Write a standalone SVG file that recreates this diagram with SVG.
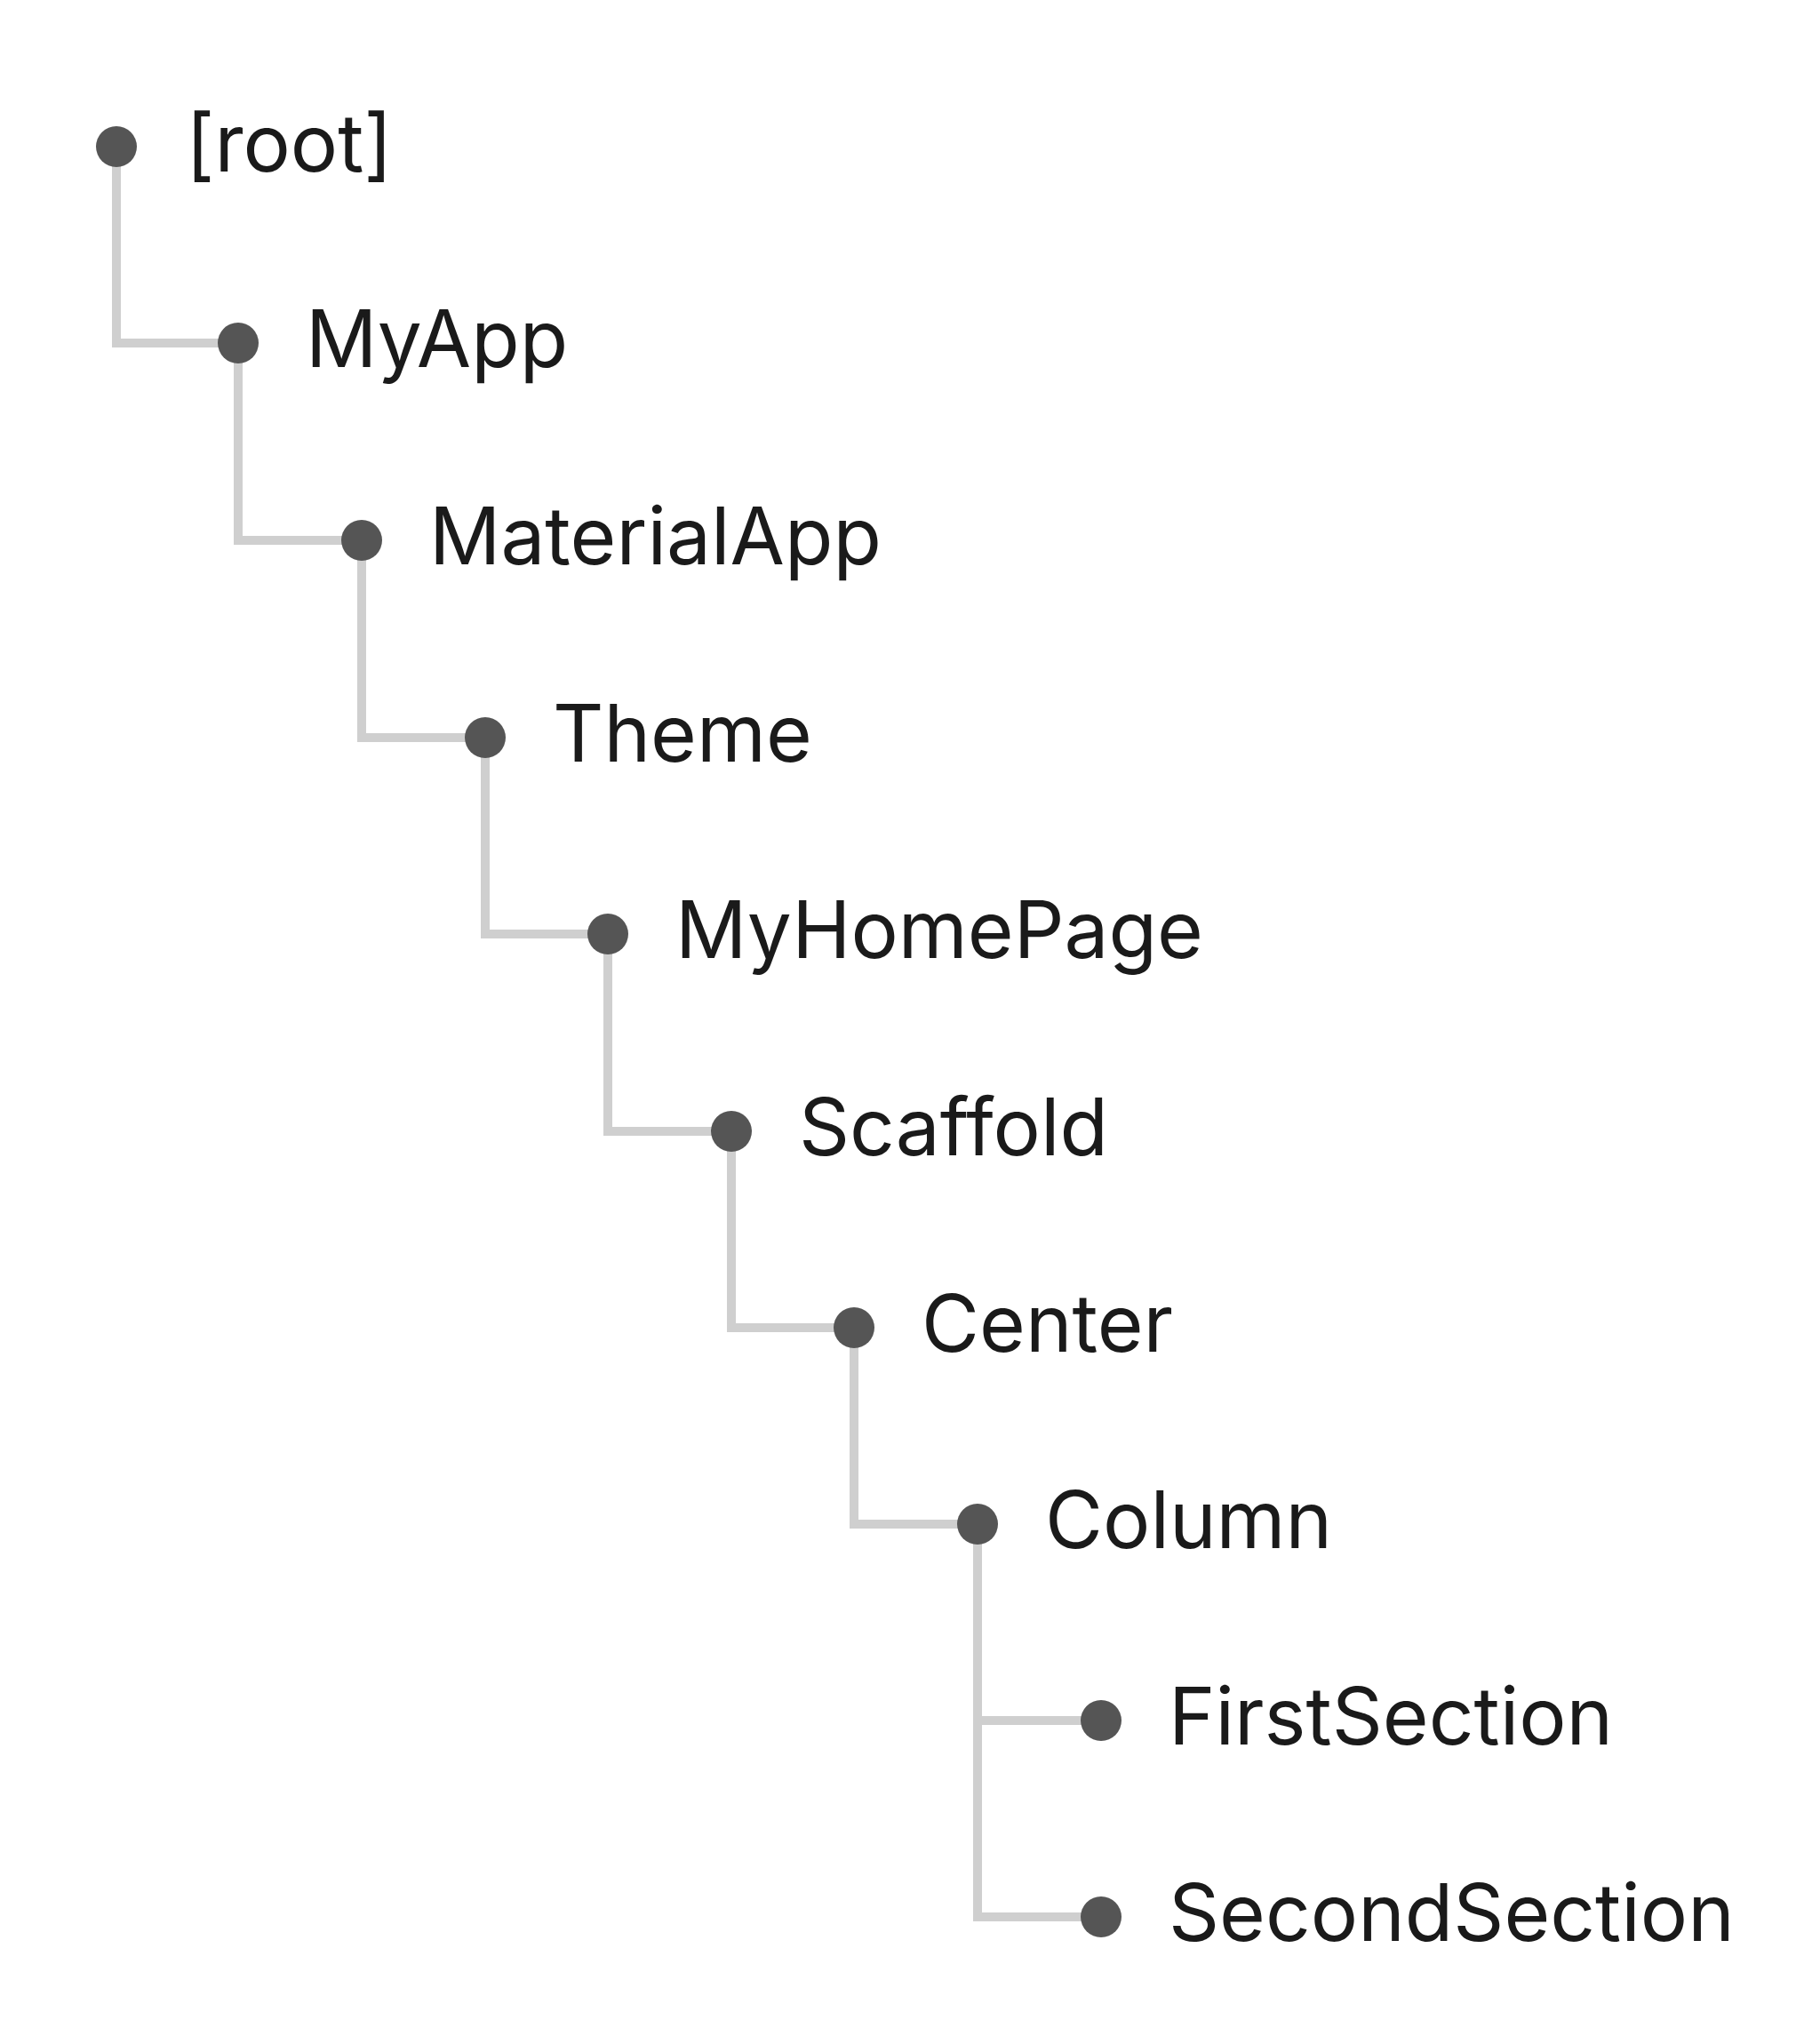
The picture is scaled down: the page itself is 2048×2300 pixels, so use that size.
<svg xmlns="http://www.w3.org/2000/svg" width="2048" height="2300" viewBox="0 0 2048 2300">
<style>
.e{fill:none;stroke:#cfcfcf;stroke-width:10}
.n circle{fill:#555}
.n text{font-family:Inter,"Liberation Sans",sans-serif;font-size:89px;fill:#1a1a1a}
</style>
<rect width="2048" height="2300" fill="#fff"/>
<g id="connectors">
<path class="e" d="M131 165V386H268"/>
<path class="e" d="M268 386V608H407"/>
<path class="e" d="M407 608V830H546"/>
<path class="e" d="M546 830V1051H684"/>
<path class="e" d="M684 1051V1273H823"/>
<path class="e" d="M823 1273V1494H961"/>
<path class="e" d="M961 1494V1715H1100"/>
<path class="e" d="M1100 1715V2157H1239"/>
<path class="e" d="M1100 1936H1239"/>
</g>
<g id="root" class="n"><circle cx="131" cy="165" r="23"/><text x="209" y="193">[root]</text></g>
<g id="myapp" class="n"><circle cx="268" cy="386" r="23"/><text x="344" y="413">MyApp</text></g>
<g id="materialapp" class="n"><circle cx="407" cy="608" r="23"/><text x="483" y="635">MaterialApp</text></g>
<g id="theme" class="n"><circle cx="546" cy="830" r="23"/><text x="622" y="857">Theme</text></g>
<g id="myhomepage" class="n"><circle cx="684" cy="1051" r="23"/><text x="760" y="1078">MyHomePage</text></g>
<g id="scaffold" class="n"><circle cx="823" cy="1273" r="23"/><text x="899" y="1300">Scaffold</text></g>
<g id="center" class="n"><circle cx="961" cy="1494" r="23"/><text x="1037" y="1521">Center</text></g>
<g id="column" class="n"><circle cx="1100" cy="1715" r="23"/><text x="1176" y="1742">Column</text></g>
<g id="firstsection" class="n"><circle cx="1239" cy="1936" r="23"/><text x="1315" y="1963">FirstSection</text></g>
<g id="secondsection" class="n"><circle cx="1239" cy="2157" r="23"/><text x="1315" y="2184">SecondSection</text></g>
</svg>
